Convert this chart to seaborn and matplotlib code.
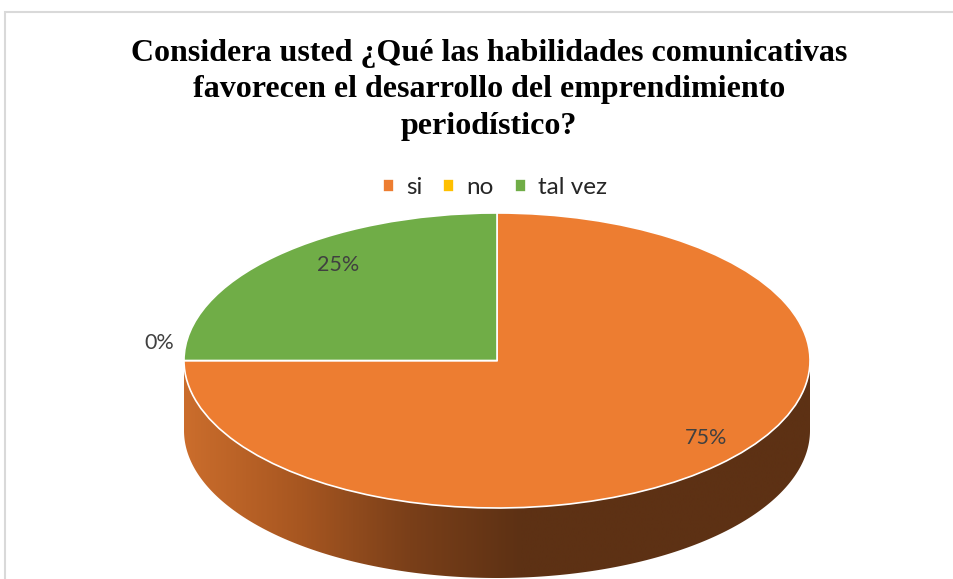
import numpy as np
import matplotlib
matplotlib.use("Agg")
import matplotlib.pyplot as plt
import seaborn as sns
from matplotlib.colors import LinearSegmentedColormap
from matplotlib.patches import Polygon, Rectangle

# data
categories = ['si', 'no', 'tal vez']
values = [75, 0, 25]
colors = ['#ED7D31', '#FFC000', '#70AD47']
title_text = ("Considera usted ¿Qué las habilidades comunicativas\n"
              "favorecen el desarrollo del emprendimiento\n"
              "periodístico?")

sns.set_theme(style='white')
plt.rcParams['font.family'] = ['Lato', 'DejaVu Sans']

W, H = 954, 579
fig = plt.figure(figsize=(W / 100, H / 100), dpi=100)

# frame of the chart area (cut at right/bottom like the reference)
fig.patches.append(Rectangle((5 / W, -0.1), 1.2, 1 - 12 / H + 0.1,
                             transform=fig.transFigure, fill=False,
                             edgecolor='#D9D9D9', lw=1.5))

# pie axes: top face spans x 184..810 px, y 213..508 px, side 70 px deep
left, right, top, bottom = 184, 810, 213, 579
ax = fig.add_axes([left / W, 1 - bottom / H, (right - left) / W, (bottom - top) / H])
ry_px = (508 - 213) / 2
depth = 70 / ry_px
ylo = 1 - (bottom - top) / ry_px

# 3D side of the pie (front half), gradient shaded
t = np.linspace(np.pi, 2 * np.pi, 300)
upper = np.column_stack([np.cos(t), np.sin(t)])
lower = np.column_stack([np.cos(t[::-1]), np.sin(t[::-1]) - depth])
side = Polygon(np.vstack([upper, lower]), closed=True, facecolor='none', edgecolor='none')
ax.add_patch(side)
xs = np.linspace(-1, 1, 400)
grad = np.clip((xs + 1) / 1.08, 0, 1)[None, :]
side_cmap = LinearSegmentedColormap.from_list('side', ['#CB6D2C', '#A85721', '#7A3F19', '#5D3114'])
img = ax.imshow(grad, extent=(-1, 1, ylo, 1), aspect='auto', cmap=side_cmap,
                interpolation='bilinear', zorder=1)
img.set_clip_path(side)

# top face
wedges, _ = ax.pie(values, colors=colors, startangle=90, counterclock=False,
                   wedgeprops=dict(edgecolor='white', linewidth=1.2))
for w in wedges:
    w.set_clip_on(False)
    w.set_zorder(2)

ax.set_aspect('auto')
ax.set_xlim(-1, 1)
ax.set_ylim(ylo, 1)
ax.axis('off')

# percentage labels (small offset mimics the perspective of the 3D view)
total = sum(values)
cum = 0
for v in values:
    mid = np.deg2rad(90 - (cum + v / 2) / total * 360)
    cum += v
    pct = f"{v / total * 100:.0f}%"
    if v > 0:
        r = 0.83
        ax.text(r * np.cos(mid) + 0.08, r * np.sin(mid) + 0.06, pct, ha='center', va='center',
                fontsize=15.5, color='#404040', zorder=3)
    else:
        ax.text(1.03 * np.cos(mid), 1.03 * np.sin(mid) + 0.12, pct, ha='right', va='center',
                fontsize=15.5, color='#404040', zorder=3)

# legend
fig.legend(wedges, categories, loc='center', bbox_to_anchor=(495 / W, 1 - 188 / H),
           ncol=3, frameon=False, handlelength=0.45, handleheight=0.45,
           handletextpad=0.5, columnspacing=0.85, fontsize=17.5)

# title
fig.text(489 / W, 1 - 90 / H, title_text, ha='center', va='center',
         fontfamily='Liberation Serif', fontweight='bold', fontsize=23,
         linespacing=1.33, color='black')

fig.savefig('out.png', dpi=100)
